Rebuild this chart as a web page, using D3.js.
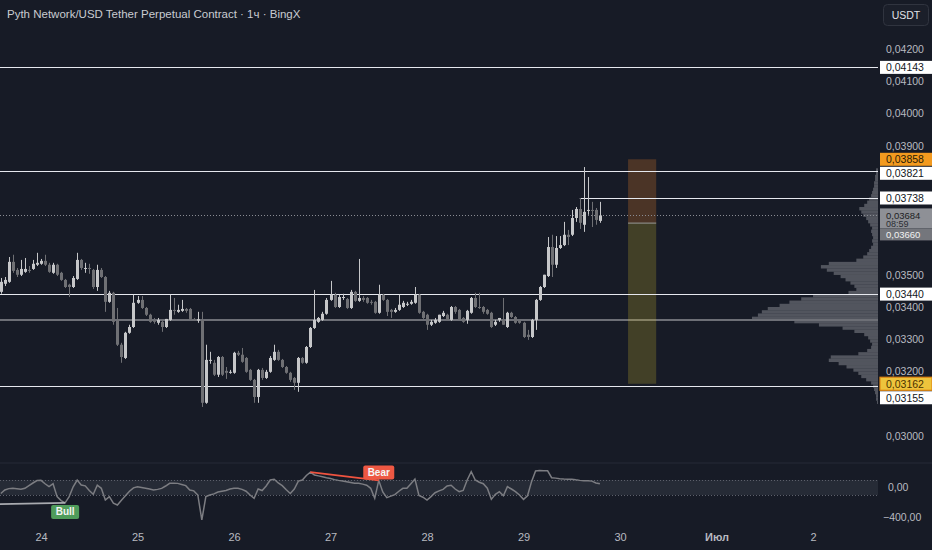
<!DOCTYPE html>
<html><head><meta charset="utf-8">
<script src="https://cdn.jsdelivr.net/npm/d3@7"></script>
<style>html,body{margin:0;padding:0;background:#171b26;overflow:hidden}</style>
</head><body>
<svg id="c" width="932" height="550"></svg>
<script>
// ---------------- DATA ----------------
const title = "Pyth Network/USD Tether Perpetual Contract · 1ч · BingX";
const firstCandle = Date.UTC(2025, 5, 23, 14); // hourly candles
const openP = [
0.03447,0.03472,0.03478,0.03540,0.03515,0.03500,0.03509,0.03515,0.03518,0.03531,
0.03534,0.03543,0.03531,0.03506,0.03531,0.03506,0.03484,0.03469,0.03462,0.03487,
0.03546,0.03518,0.03521,0.03515,0.03462,0.03515,0.03493,0.03416,0.03444,0.03360,
0.03283,0.03242,0.03320,0.03338,0.03413,0.03422,0.03397,0.03376,0.03360,0.03351,
0.03354,0.03338,0.03360,0.03391,0.03385,0.03388,0.03394,0.03394,0.03363,0.03358,
0.03360,0.03103,0.03233,0.03227,0.03190,0.03245,0.03202,0.03196,0.03196,0.03258,
0.03252,0.03242,0.03205,0.03174,0.03121,0.03205,0.03180,0.03199,0.03236,0.03261,
0.03236,0.03214,0.03196,0.03180,0.03165,0.03242,0.03227,0.03276,0.03335,0.03354,
0.03360,0.03379,0.03422,0.03438,0.03400,0.03428,0.03425,0.03397,0.03447,0.03419,
0.03428,0.03428,0.03416,0.03416,0.03382,0.03438,0.03422,0.03391,0.03385,0.03391,
0.03400,0.03407,0.03410,0.03413,0.03438,0.03385,0.03376,0.03345,0.03351,0.03354,
0.03372,0.03376,0.03360,0.03400,0.03391,0.03366,0.03360,0.03382,0.03428,0.03400,
0.03400,0.03391,0.03382,0.03345,0.03360,0.03360,0.03338,0.03382,0.03369,0.03357,
0.03351,0.03314,0.03307,0.03360,0.03422,0.03462,0.03496,0.03586,0.03531,0.03583,
0.03592,0.03624,0.03624,0.03676,0.03704,0.03655,0.03698,0.03701,0.03701,0.03667];
const highP = [
0.03490,0.03493,0.03555,0.03562,0.03521,0.03546,0.03552,0.03527,0.03546,0.03568,
0.03549,0.03562,0.03537,0.03537,0.03534,0.03509,0.03487,0.03472,0.03496,0.03568,
0.03549,0.03537,0.03534,0.03518,0.03531,0.03521,0.03496,0.03450,0.03447,0.03397,
0.03289,0.03323,0.03345,0.03438,0.03434,0.03434,0.03400,0.03379,0.03366,0.03366,
0.03360,0.03363,0.03438,0.03428,0.03407,0.03422,0.03397,0.03397,0.03366,0.03385,
0.03385,0.03283,0.03261,0.03236,0.03248,0.03248,0.03214,0.03205,0.03261,0.03264,
0.03273,0.03245,0.03208,0.03177,0.03208,0.03211,0.03205,0.03248,0.03283,0.03267,
0.03239,0.03217,0.03199,0.03183,0.03245,0.03245,0.03279,0.03338,0.03453,0.03369,
0.03385,0.03428,0.03481,0.03444,0.03438,0.03441,0.03428,0.03453,0.03450,0.03549,
0.03434,0.03431,0.03422,0.03419,0.03469,0.03441,0.03425,0.03394,0.03397,0.03438,
0.03419,0.03416,0.03422,0.03462,0.03441,0.03388,0.03379,0.03360,0.03366,0.03376,
0.03388,0.03379,0.03403,0.03403,0.03394,0.03369,0.03391,0.03431,0.03444,0.03444,
0.03403,0.03394,0.03385,0.03360,0.03366,0.03428,0.03385,0.03385,0.03372,0.03360,
0.03354,0.03329,0.03363,0.03425,0.03465,0.03500,0.03617,0.03624,0.03620,0.03620,
0.03664,0.03639,0.03701,0.03710,0.03738,0.03834,0.03803,0.03726,0.03707,0.03726];
const lowP = [
0.03441,0.03465,0.03475,0.03506,0.03493,0.03496,0.03506,0.03506,0.03515,0.03527,
0.03531,0.03527,0.03506,0.03503,0.03496,0.03481,0.03459,0.03431,0.03459,0.03484,
0.03515,0.03506,0.03503,0.03456,0.03450,0.03490,0.03385,0.03413,0.03345,0.03279,
0.03227,0.03239,0.03317,0.03335,0.03410,0.03394,0.03372,0.03351,0.03348,0.03345,
0.03323,0.03335,0.03357,0.03376,0.03382,0.03385,0.03382,0.03360,0.03357,0.03351,
0.03090,0.03100,0.03224,0.03186,0.03183,0.03186,0.03177,0.03193,0.03193,0.03248,
0.03227,0.03196,0.03171,0.03103,0.03103,0.03174,0.03177,0.03196,0.03233,0.03233,
0.03211,0.03193,0.03168,0.03143,0.03137,0.03224,0.03224,0.03273,0.03332,0.03351,
0.03357,0.03376,0.03419,0.03397,0.03397,0.03422,0.03394,0.03394,0.03416,0.03416,
0.03416,0.03410,0.03407,0.03379,0.03379,0.03419,0.03372,0.03366,0.03382,0.03388,
0.03397,0.03403,0.03407,0.03410,0.03379,0.03363,0.03329,0.03341,0.03348,0.03351,
0.03369,0.03357,0.03357,0.03379,0.03357,0.03351,0.03348,0.03379,0.03397,0.03394,
0.03379,0.03376,0.03335,0.03341,0.03354,0.03345,0.03335,0.03366,0.03348,0.03348,
0.03304,0.03298,0.03304,0.03329,0.03419,0.03459,0.03493,0.03493,0.03521,0.03580,
0.03589,0.03592,0.03620,0.03664,0.03642,0.03633,0.03686,0.03648,0.03655,0.03661];
const closeP = [
0.03478,0.03484,0.03540,0.03512,0.03500,0.03518,0.03518,0.03513,0.03534,0.03537,
0.03543,0.03531,0.03509,0.03531,0.03500,0.03484,0.03462,0.03462,0.03490,0.03546,
0.03521,0.03521,0.03518,0.03462,0.03515,0.03493,0.03416,0.03444,0.03354,0.03283,
0.03245,0.03320,0.03338,0.03413,0.03422,0.03397,0.03376,0.03354,0.03354,0.03360,
0.03338,0.03363,0.03391,0.03388,0.03391,0.03394,0.03388,0.03363,0.03361,0.03362,
0.03103,0.03236,0.03236,0.03190,0.03245,0.03190,0.03196,0.03199,0.03258,0.03252,
0.03230,0.03199,0.03174,0.03121,0.03205,0.03180,0.03199,0.03242,0.03261,0.03236,
0.03214,0.03196,0.03174,0.03165,0.03242,0.03227,0.03276,0.03335,0.03360,0.03366,
0.03379,0.03422,0.03438,0.03400,0.03431,0.03431,0.03397,0.03447,0.03419,0.03428,
0.03422,0.03413,0.03413,0.03382,0.03438,0.03422,0.03385,0.03385,0.03391,0.03407,
0.03413,0.03410,0.03416,0.03438,0.03382,0.03366,0.03345,0.03354,0.03360,0.03376,
0.03382,0.03360,0.03400,0.03385,0.03360,0.03354,0.03388,0.03428,0.03400,0.03397,
0.03385,0.03379,0.03338,0.03354,0.03366,0.03345,0.03382,0.03369,0.03351,0.03351,
0.03307,0.03307,0.03360,0.03422,0.03462,0.03500,0.03586,0.03531,0.03583,0.03592,
0.03624,0.03617,0.03676,0.03704,0.03661,0.03695,0.03701,0.03698,0.03670,0.03684];
const cci = [
-80,-33,-15,-11,-18,-24,-11,25,60,92,
95,50,11,50,-122,-175,-205,-122,10,100,
33,22,-40,-90,30,-11,-167,-122,-210,-233,
-170,-110,-50,-5,11,0,-10,-20,-33,-25,
-12,20,56,56,55,40,25,-33,-45,-100,
-433,-122,-100,-85,-60,-50,-40,-20,-11,-11,
-25,-50,-100,-144,-20,-40,20,100,110,60,
25,-30,-80,-20,85,100,160,205,167,155,
144,130,120,105,95,88,78,67,56,56,
45,30,-11,-144,95,-60,-136,-115,-95,-50,
-11,-11,50,113,-105,-130,-167,-122,-70,-45,
-25,20,30,-20,-56,-40,100,211,100,70,
50,-10,-158,-90,-56,-110,11,-20,-55,-100,
-158,-110,78,220,228,222,222,131,125,118,
113,111,111,102,95,90,90,85,60,50];
const cciBand = [100, -100];
const divergences = [
  {label: "Bull", from: [-3, -225], to: [16, -205]},
  {label: "Bear", from: [77, 205], to: [94, 95]}
];
// volume profile (bin centre price, volume)
const profilePrice = [
0.03825,0.03815,0.03805,0.03795,0.03785,0.03775,0.03765,0.03755,0.03745,0.03735,
0.03725,0.03715,0.03705,0.03695,0.03685,0.03675,0.03665,0.03655,0.03645,0.03635,
0.03625,0.03615,0.03605,0.03595,0.03585,0.03575,0.03565,0.03555,0.03545,0.03535,
0.03525,0.03515,0.03505,0.03495,0.03485,0.03475,0.03465,0.03455,0.03445,0.03435,
0.03425,0.03415,0.03405,0.03395,0.03385,0.03375,0.03365,0.03355,0.03345,0.03335,
0.03325,0.03315,0.03305,0.03295,0.03285,0.03275,0.03265,0.03255,0.03245,0.03235,
0.03225,0.03215,0.03205,0.03195,0.03185,0.03175,0.03165,0.03155,0.03145,0.03135,
0.03125,0.03115,0.03105];
const profileVol = [
2,2,3,3,4,4,5,6,7,9,
11,14,19,17,15,12,10,8,6,7,
6,5,6,5,7,9,11,15,22,50,
58,52,45,38,33,28,24,22,30,66,
78,90,100,112,118,122,128,85,60,36,
24,14,10,8,6,7,11,20,48,50,
40,32,25,20,17,12,7,5,4,3,
2,2,1];
const pocPrice = 0.03360;
const levelsFull = [0.04143, 0.03821, 0.03440, 0.03155];
const rayLevel = {price: 0.03738, fromCandle: 144};
const position = {fromCandle: 156, toCandle: 163, top: 0.03858, entry: 0.03660, bottom: 0.03162};
const lastPrice = 0.03684;
const countdown = "08:59";
const priceTicks = [0.030,0.032,0.033,0.034,0.035,0.039,0.040,0.041,0.042];
const oscTicks = [0, -400];
const dayTicks = ["2025-06-24","2025-06-25","2025-06-26","2025-06-27","2025-06-28","2025-06-29","2025-06-30","2025-07-01","2025-07-02"];
const dayLabels = ["24","25","26","27","28","29","30","Июл","2"];

// ---------------- DRAW ----------------
const W = 932, H = 550, plotR = 878, mainBottom = 462, oscTop = 463, oscBottom = 524;
const FONT = "'Liberation Sans', Arial, sans-serif";
const svg = d3.select("#c");
svg.append("rect").attr("width", W).attr("height", H).attr("fill", "#171b26");

const loc = d3.formatLocale({decimal: ",", thousands: " ", grouping: [3], currency: ["", ""]});
const fmtP = loc.format(".5f"), fmtO = loc.format(".2f");

const x = d3.scaleUtc().domain([new Date(dayTicks[0]), new Date(dayTicks[dayTicks.length - 1])]).range([41, 813]);
const xi = i => x(new Date(firstCandle + i * 3600e3));
const y = d3.scaleLinear().domain([0.030, 0.042]).range([436, 49]);
const yo = d3.scaleLinear().domain([-400, 0]).range([517.5, 487.5]);

const defs = svg.append("defs");
defs.append("clipPath").attr("id", "cm").append("rect").attr("x", 0).attr("y", 0).attr("width", plotR).attr("height", mainBottom);
defs.append("clipPath").attr("id", "co").append("rect").attr("x", 0).attr("y", oscTop).attr("width", plotR).attr("height", oscBottom - oscTop);

// pane separator
svg.append("line").attr("x1", 0).attr("x2", W).attr("y1", oscTop).attr("y2", oscTop).attr("stroke", "#262a36");

const main = svg.append("g").attr("clip-path", "url(#cm)");

// volume profile
const vx = d3.scaleLinear().domain([0, d3.max(profileVol)]).range([0, 126]);
const binH = y(0) - y(0.0001);
main.append("g").selectAll("rect").data(profilePrice).join("rect")
  .attr("x", (p, i) => plotR - vx(profileVol[i]))
  .attr("width", (p, i) => vx(profileVol[i]))
  .attr("y", p => y(p) - binH / 2)
  .attr("height", binH + 0.2)
  .attr("fill", "#52555e");

// POC line
main.append("line").attr("x1", 0).attr("x2", plotR).attr("y1", y(pocPrice)).attr("y2", y(pocPrice))
  .attr("stroke", "#6d6f76").attr("stroke-width", 2);

// position tool
const px0 = xi(position.fromCandle), px1 = xi(position.toCandle);
main.append("rect").attr("x", px0).attr("width", px1 - px0).attr("y", y(position.top)).attr("height", y(position.entry) - y(position.top))
  .attr("fill", "rgba(242,135,40,0.24)");
main.append("rect").attr("x", px0).attr("width", px1 - px0).attr("y", y(position.entry)).attr("height", y(position.bottom) - y(position.entry))
  .attr("fill", "rgba(205,185,45,0.24)");
main.append("line").attr("x1", px0).attr("x2", px1).attr("y1", y(position.entry)).attr("y2", y(position.entry))
  .attr("stroke", "#7c7b72").attr("stroke-width", 1.5);

// levels
main.append("g").selectAll("line").data(levelsFull).join("line")
  .attr("x1", 0).attr("x2", plotR).attr("y1", d => Math.round(y(d)) + 0.5).attr("y2", d => Math.round(y(d)) + 0.5)
  .attr("stroke", "#e6e8ee").attr("stroke-width", 1);
main.append("line").attr("x1", xi(rayLevel.fromCandle)).attr("x2", plotR)
  .attr("y1", Math.round(y(rayLevel.price)) + 0.5).attr("y2", Math.round(y(rayLevel.price)) + 0.5)
  .attr("stroke", "#e6e8ee");

// last price dotted
main.append("line").attr("x1", 0).attr("x2", plotR).attr("y1", Math.round(y(lastPrice)) + 0.5).attr("y2", Math.round(y(lastPrice)) + 0.5)
  .attr("stroke", "#8a8c93").attr("stroke-dasharray", "1,2");

// candles
const idx = d3.range(openP.length);
const colOf = i => closeP[i] >= openP[i] ? "#c6c7c9" : "#6f7074";
const cg = main.append("g");
cg.selectAll("line").data(idx).join("line")
  .attr("x1", i => Math.round(xi(i)) + 0.5).attr("x2", i => Math.round(xi(i)) + 0.5)
  .attr("y1", i => y(highP[i])).attr("y2", i => y(lowP[i]))
  .attr("stroke", colOf).attr("stroke-width", 1);
cg.selectAll("rect").data(idx).join("rect")
  .attr("x", i => Math.round(xi(i)) - 1)
  .attr("width", 3)
  .attr("y", i => y(Math.max(openP[i], closeP[i])))
  .attr("height", i => Math.max(1, y(Math.min(openP[i], closeP[i])) - y(Math.max(openP[i], closeP[i]))))
  .attr("fill", colOf);

// ---------- oscillator ----------
const osc = svg.append("g").attr("clip-path", "url(#co)");
osc.append("rect").attr("x", 0).attr("width", plotR).attr("y", yo(cciBand[0])).attr("height", yo(cciBand[1]) - yo(cciBand[0]))
  .attr("fill", "rgba(135,140,155,0.14)");
osc.append("g").selectAll("line").data(cciBand).join("line")
  .attr("x1", 0).attr("x2", plotR).attr("y1", d => Math.round(yo(d)) + 0.5).attr("y2", d => Math.round(yo(d)) + 0.5)
  .attr("stroke", "#5d606b").attr("stroke-dasharray", "1,2");
osc.append("path").datum(idx)
  .attr("d", d3.line().x(i => xi(i)).y(i => yo(cci[i])))
  .attr("fill", "none").attr("stroke", "#7c7d82").attr("stroke-width", 1.5);
divergences.forEach(dv => {
  const isBull = dv.label === "Bull";
  osc.append("line")
    .attr("x1", xi(dv.from[0])).attr("y1", yo(dv.from[1]))
    .attr("x2", xi(dv.to[0])).attr("y2", yo(dv.to[1]))
    .attr("stroke", isBull ? "#a9abb0" : "#f0533f").attr("stroke-width", 1.6);
});
const lab = svg.append("g").attr("font-family", FONT);
divergences.forEach(dv => {
  const isBull = dv.label === "Bull";
  const cx = xi(dv.to[0]), cy = yo(dv.to[1]);
  const w = isBull ? 28 : 31, h = 14;
  const top = isBull ? cy + 2 : cy - h - 1;
  const fill = isBull ? "#4f9c5b" : "#ee5843";
  lab.append("rect").attr("x", cx - w / 2).attr("y", top).attr("width", w).attr("height", h).attr("rx", 2).attr("fill", fill);
  lab.append("text").attr("x", cx).attr("y", top + h / 2 + 3.6).attr("text-anchor", "middle")
    .attr("font-size", 10).attr("font-weight", "bold").attr("fill", "#f4f4f4").text(dv.label);
});

// ---------- axes ----------
const ax = svg.append("g").attr("transform", "translate(0,533)")
  .call(d3.axisBottom(x).tickValues(dayTicks.map(d => new Date(d))).tickFormat((d, i) => dayLabels[i]).tickSize(0).tickPadding(0));
ax.select(".domain").remove();
ax.selectAll("text").attr("font-family", FONT).attr("font-size", 11).attr("fill", "#b8bac0")
  .attr("font-weight", (d, i) => dayLabels[i] === "Июл" ? "bold" : "normal");

const ay = svg.append("g").attr("transform", "translate(886,0)")
  .call(d3.axisRight(y).tickValues(priceTicks).tickFormat(fmtP).tickSize(0).tickPadding(0));
ay.select(".domain").remove();
ay.selectAll("text").attr("font-family", FONT).attr("font-size", 10.5).attr("fill", "#b8bac0");

const aoy = svg.append("g").attr("transform", "translate(886,0)")
  .call(d3.axisRight(yo).tickValues(oscTicks).tickFormat(fmtO).tickSize(0).tickPadding(0));
aoy.select(".domain").remove();
aoy.selectAll("text").attr("font-family", FONT).attr("font-size", 10.5).attr("fill", "#b8bac0")
  .attr("dx", d => d === 0 ? 2 : -3);

// price tags
const tagH = 13;
const tags = [
  {p: levelsFull[0], fill: "#ffffff", color: "#131722"},
  {p: position.top, fill: "#f39a1f", color: "#2a1c05"},
  {p: levelsFull[1], fill: "#ffffff", color: "#131722"},
  {p: rayLevel.price, fill: "#ffffff", color: "#131722"},
  {p: levelsFull[2], fill: "#ffffff", color: "#131722"},
  {p: position.bottom, fill: "#eec43c", color: "#4a3200", stroke: "#e28a14"},
  {p: levelsFull[3], fill: "#ffffff", color: "#131722"}
];
let lastBottom = -1e9;
const tg = svg.append("g").attr("font-family", FONT);
tags.forEach(t => {
  let cy = y(t.p);
  if (cy - tagH / 2 < lastBottom + 1) cy = lastBottom + 1 + tagH / 2;
  lastBottom = cy + tagH / 2;
  tg.append("rect").attr("x", 880).attr("y", cy - tagH / 2).attr("width", 52).attr("height", tagH)
    .attr("fill", t.fill).attr("stroke", t.stroke || "none").attr("stroke-width", t.stroke ? 1.2 : 0);
  tg.append("text").attr("x", 886).attr("y", cy + 3.8).attr("font-size", 10.5).attr("fill", t.color).text(fmtP(t.p));
});
// last price + countdown, then entry tag below
const ly = y(lastPrice);
tg.append("rect").attr("x", 880).attr("y", ly - 7).attr("width", 52).attr("height", 20).attr("fill", "#8e9096");
tg.append("text").attr("x", 886).attr("y", ly + 3.3).attr("font-size", 9.5).attr("fill", "#1d1f24").text(fmtP(lastPrice));
tg.append("text").attr("x", 886).attr("y", ly + 12).attr("font-size", 9).attr("fill", "#2b2d33").text(countdown);
tg.append("rect").attr("x", 880).attr("y", ly + 13).attr("width", 52).attr("height", 12).attr("fill", "#74767c");
tg.append("text").attr("x", 886).attr("y", ly + 22.5).attr("font-size", 9.5).attr("fill", "#f2f2f2").text(fmtP(position.entry));

// USDT button
svg.append("rect").attr("x", 883.5).attr("y", 4.5).attr("width", 45).attr("height", 21).attr("rx", 4)
  .attr("fill", "#1b1f2a").attr("stroke", "#30343f");
svg.append("text").attr("x", 906).attr("y", 18.5).attr("text-anchor", "middle").attr("font-family", FONT)
  .attr("font-size", 10.5).attr("fill", "#e0e2e8").text("USDT");

// title
svg.append("text").attr("x", 7).attr("y", 18).attr("font-family", FONT).attr("font-size", 11.5)
  .attr("fill", "#c9cbd1").text(title);
</script>
</body></html>
